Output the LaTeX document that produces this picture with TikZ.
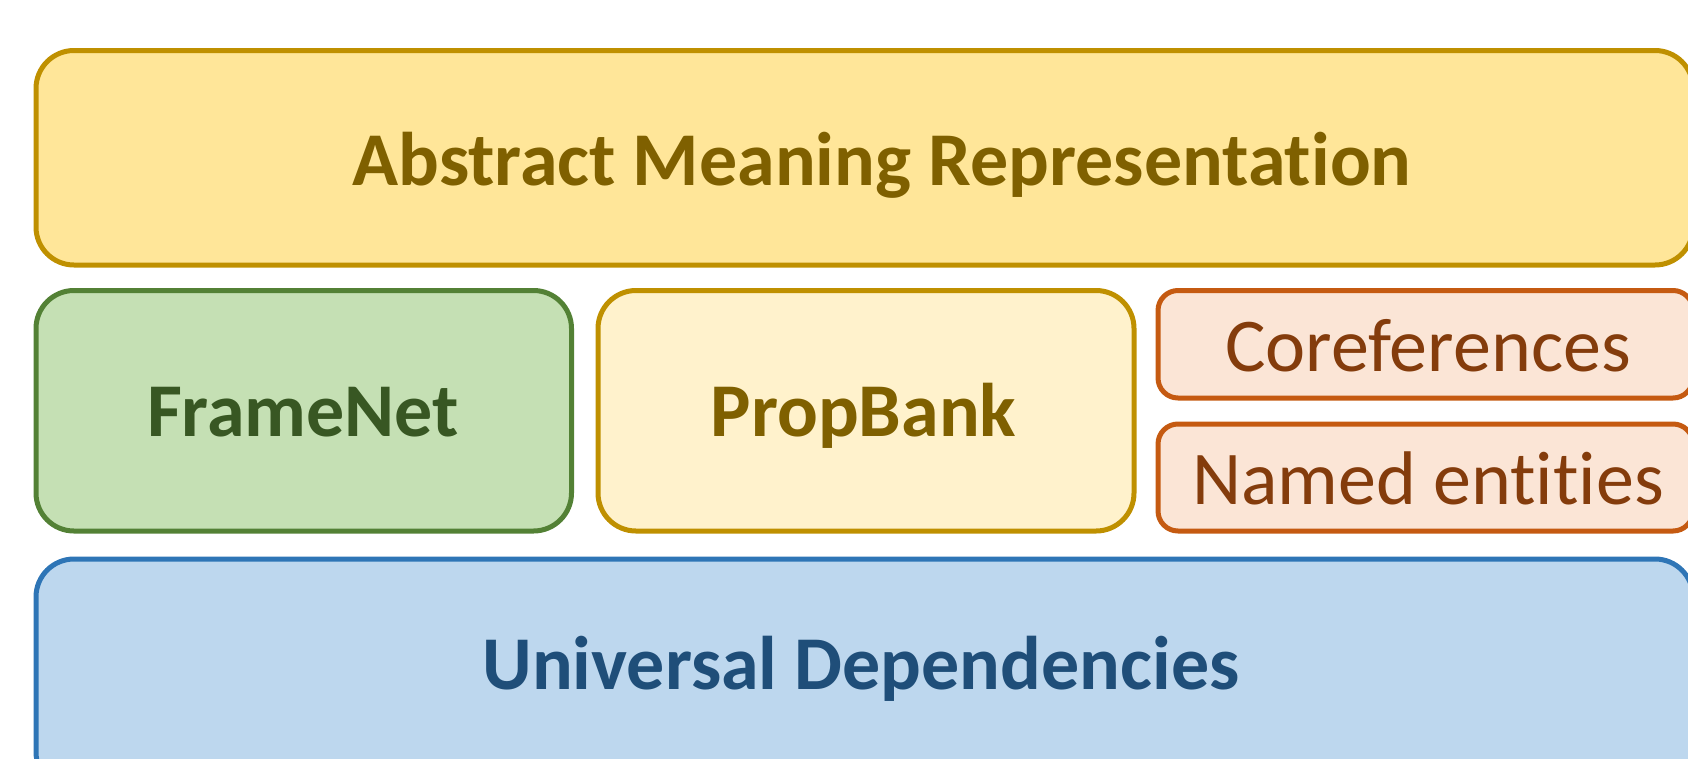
\documentclass[tikz,border=0pt]{standalone}
\usepackage{fontspec}
\setmainfont{Carlito}[Ligatures={NoCommon}]
\definecolor{amrfill}{HTML}{FFE699}
\definecolor{amrline}{HTML}{BF9000}
\definecolor{amrtext}{HTML}{7F6000}
\definecolor{pbfill}{HTML}{FFF2CC}
\definecolor{fnfill}{HTML}{C5E0B4}
\definecolor{fnline}{HTML}{538135}
\definecolor{fntext}{HTML}{385723}
\definecolor{orfill}{HTML}{FBE5D6}
\definecolor{orline}{HTML}{C55A11}
\definecolor{ortext}{HTML}{843C0C}
\definecolor{udfill}{HTML}{BDD7EE}
\definecolor{udline}{HTML}{2E75B6}
\definecolor{udtext}{HTML}{1F4E79}
\tikzset{
  layerbox/.style={rectangle, line width=5pt, inner sep=0pt, outer sep=0pt},
  bigbox/.style={layerbox, rounded corners=38pt},
  smallbox/.style={layerbox, rounded corners=20pt},
  boldlabel/.style={font=\fontsize{76}{80}\selectfont\bfseries, anchor=base, inner sep=0pt},
  plainlabel/.style={font=\fontsize{76}{80}\selectfont, anchor=base, inner sep=0pt},
}
\begin{document}
\begin{tikzpicture}[x=1pt,y=-1pt]
\useasboundingbox (0,0) rectangle (1688,758);
\clip (0,0) rectangle (1688,758);
% boxes
\node[bigbox, draw=amrline, fill=amrfill, minimum width=1657pt, minimum height=214.5pt] (amr) at (864.5,157.75) {};
\node[bigbox, draw=fnline, fill=fnfill, minimum width=535.5pt, minimum height=240.5pt] (fn) at (303.75,410.75) {};
\node[bigbox, draw=amrline, fill=pbfill, minimum width=536pt, minimum height=240.5pt] (pb) at (866,410.75) {};
\node[smallbox, draw=orline, fill=orfill, minimum width=535pt, minimum height=107.5pt] (coref) at (1425.5,344.25) {};
\node[smallbox, draw=orline, fill=orfill, minimum width=535pt, minimum height=107pt] (ne) at (1425.5,477.5) {};
\node[bigbox, draw=udline, fill=udfill, minimum width=1657pt, minimum height=231pt] (ud) at (864.5,674.5) {};
% labels
\node[boldlabel, text=amrtext] (amrt) at (882,185) {Abstract Meaning Representation};
\node[boldlabel, text=fntext] (fnt) at (303,436) {FrameNet};
\node[boldlabel, text=amrtext] (pbt) at (863.5,436) {PropBank};
\node[plainlabel, text=ortext] (coreft) at (1428,371) {Coreferences};
\node[plainlabel, text=ortext] (net) at (1428,504) {Named entities};
\node[boldlabel, text=udtext] (udt) at (861,689) {Universal Dependencies};
\end{tikzpicture}
\end{document}
